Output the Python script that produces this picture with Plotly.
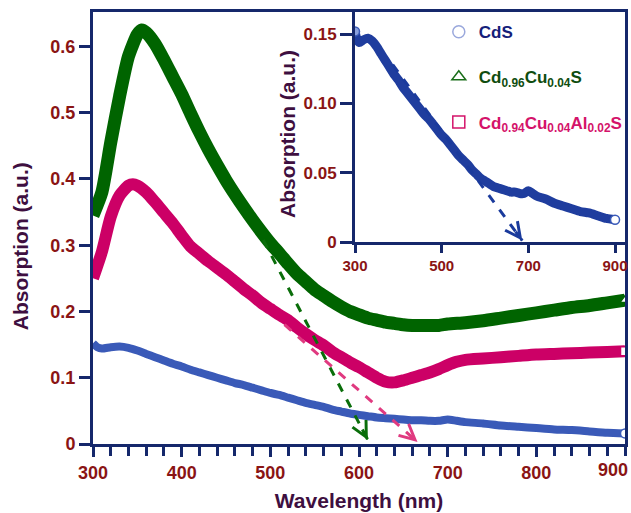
import plotly.graph_objects as go

# ---------------- data ----------------
cds_wl = [300, 305, 310, 320, 330, 340, 350, 360, 370, 380, 390, 400, 410, 420, 430, 440, 450,
          460, 470, 480, 490, 500, 510, 520, 530, 540, 550, 560, 570, 580, 590, 600, 610, 620,
          630, 640, 650, 660, 670, 680, 690, 700, 710, 720, 740, 760, 780, 800, 820, 840, 860,
          880, 900]
cds_abs = [0.152, 0.146, 0.144, 0.146, 0.147, 0.145, 0.141, 0.136, 0.131, 0.126, 0.121, 0.117,
           0.112, 0.108, 0.104, 0.100, 0.096, 0.092, 0.089, 0.085, 0.081, 0.077, 0.074, 0.070,
           0.066, 0.062, 0.059, 0.056, 0.052, 0.049, 0.046, 0.044, 0.042, 0.040, 0.039, 0.038,
           0.037, 0.036, 0.036, 0.035, 0.035, 0.037, 0.035, 0.033, 0.031, 0.028, 0.026, 0.024,
           0.022, 0.021, 0.019, 0.017, 0.016]

cu_wl = [300, 310, 320, 330, 340, 350, 355, 360, 370, 380, 390, 400, 410, 420, 430, 440, 450,
         460, 470, 480, 490, 500, 510, 520, 530, 540, 550, 560, 570, 580, 590, 600, 610, 620,
         630, 640, 650, 660, 670, 680, 690, 700, 720, 740, 760, 780, 800, 820, 840, 860, 880, 900]
cu_abs = [0.345, 0.380, 0.455, 0.525, 0.585, 0.618, 0.625, 0.621, 0.604, 0.580, 0.554, 0.528,
          0.499, 0.471, 0.445, 0.421, 0.398, 0.377, 0.357, 0.338, 0.320, 0.303, 0.288, 0.272,
          0.257, 0.245, 0.233, 0.224, 0.215, 0.207, 0.200, 0.195, 0.190, 0.187, 0.184, 0.182,
          0.180, 0.179, 0.179, 0.179, 0.179, 0.181, 0.183, 0.186, 0.190, 0.194, 0.198, 0.202,
          0.206, 0.209, 0.213, 0.217]

al_wl = [300, 310, 320, 330, 340, 345, 350, 360, 370, 380, 390, 400, 410, 420, 430, 440, 450,
         460, 470, 480, 490, 500, 510, 520, 530, 540, 550, 560, 570, 580, 590, 600, 610, 620,
         630, 640, 650, 660, 670, 680, 690, 700, 710, 720, 740, 760, 780, 800, 820, 840, 860,
         880, 900]
al_abs = [0.250, 0.290, 0.343, 0.375, 0.390, 0.392, 0.390, 0.380, 0.365, 0.349, 0.333, 0.315,
          0.298, 0.287, 0.276, 0.266, 0.256, 0.245, 0.234, 0.224, 0.213, 0.204, 0.195, 0.187,
          0.176, 0.166, 0.157, 0.149, 0.139, 0.131, 0.123, 0.116, 0.108, 0.100, 0.094, 0.093,
          0.096, 0.100, 0.104, 0.108, 0.113, 0.119, 0.124, 0.127, 0.129, 0.131, 0.133, 0.135,
          0.136, 0.137, 0.138, 0.139, 0.140]

names = ["CdS", "Cd<sub>0.96</sub>Cu<sub>0.04</sub>S", "Cd<sub>0.94</sub>Cu<sub>0.04</sub>Al<sub>0.02</sub>S"]

main_xticks = [300, 400, 500, 600, 700, 800]
main_xlast = 900          # last main x label, drawn right-aligned at the axis end
main_yticks = [0, 0.1, 0.2, 0.3, 0.4, 0.5, 0.6]
main_yticktext = ["0", "0.1", "0.2", "0.3", "0.4", "0.5", "0.6"]
inset_xticks = [300, 500, 700, 900]
inset_yticks = [0, 0.05, 0.10, 0.15]
inset_yticktext = ["0", "0.05", "0.10", "0.15"]

x_title = "Wavelength (nm)"
y_title = "Absorption (a.u.)"

# arrows: start (x, y) and tip (x, y)
arrow_cu_x, arrow_cu_y = [492, 610], [0.308, 0.006]
arrow_al_x, arrow_al_y = [516, 666], [0.180, 0.003]
arrow_cds_x, arrow_cds_y = [387, 686], [0.128, 0.001]

# ---------------- style ----------------
FONT = "Arial, Liberation Sans, sans-serif"
AXIS = "#15286b"
TICK = "#8a1414"
TITLE = "#3e0f40"
GREEN = "#006400"
PINK = "#cc0066"
BLUE = "#3a5ab8"

fig = go.Figure()

# main curves
fig.add_trace(go.Scatter(x=cu_wl, y=cu_abs, mode="lines", showlegend=False,
                         line=dict(color=GREEN, width=13, shape="spline", smoothing=0.6)))
fig.add_trace(go.Scatter(x=al_wl, y=al_abs, mode="lines", showlegend=False,
                         line=dict(color=PINK, width=12, shape="spline", smoothing=0.6)))
fig.add_trace(go.Scatter(x=cds_wl, y=cds_abs, mode="lines", showlegend=False,
                         line=dict(color=BLUE, width=8, shape="spline", smoothing=0.6)))
# end markers
fig.add_trace(go.Scatter(x=[cu_wl[-1]], y=[cu_abs[-1]], mode="markers", showlegend=False,
                         marker=dict(symbol="triangle-up", size=9, color="white", line=dict(color=GREEN, width=1.5))))
fig.add_trace(go.Scatter(x=[al_wl[-1]], y=[al_abs[-1]], mode="markers", showlegend=False,
                         marker=dict(symbol="square", size=9, color="white", line=dict(color=PINK, width=1.5))))
fig.add_trace(go.Scatter(x=[cds_wl[-1]], y=[cds_abs[-1]], mode="markers", showlegend=False,
                         marker=dict(symbol="circle", size=9, color="white", line=dict(color=BLUE, width=1.5))))

# inset curve
fig.add_trace(go.Scatter(x=cds_wl, y=cds_abs, mode="lines", showlegend=False, xaxis="x2", yaxis="y2",
                         line=dict(color="#1f3d9e", width=9, shape="spline", smoothing=0.6)))
fig.add_trace(go.Scatter(x=[cds_wl[0], cds_wl[-1]], y=[cds_abs[0], cds_abs[-1]], mode="markers",
                         showlegend=False, xaxis="x2", yaxis="y2",
                         marker=dict(symbol="circle", size=9, color=["#8aa0dd", "white"],
                                     line=dict(color="#3a5ab8", width=1.5))))

# legend entries
leg = [(names[0], "circle-open", "#9aa8dc", "#14207a"),
       (names[1], "triangle-up-open", "#1a6e1a", "#0f4d0f"),
       (names[2], "square-open", "#d4136a", "#d4136a")]
for i, (nm, sym, mc, tc) in enumerate(leg):
    fig.add_trace(go.Scatter(x=[None], y=[None], mode="markers", xaxis="x2", yaxis="y2",
                             name=f'<span style="color:{tc}">{nm}</span>', legendgroup=f"g{i}",
                             marker=dict(symbol=sym, size=12, color=mc, line=dict(width=1.5))))

# dashed arrows: dashed line trace + chevron head at the tip
def add_arrow(xs, ys, color, xa, ya):
    fig.add_trace(go.Scatter(x=xs, y=ys, mode="lines", showlegend=False, xaxis=xa, yaxis=ya,
                             line=dict(color=color, width=3, dash="dash")))
    x0, x1 = xs
    y0, y1 = ys
    fig.add_annotation(x=x1, y=y1, xref=xa, yref=ya, axref=xa, ayref=ya,
                       ax=x1 - 0.06 * (x1 - x0), ay=y1 - 0.06 * (y1 - y0),
                       showarrow=True, arrowhead=5, arrowsize=1.0, arrowwidth=3,
                       arrowcolor=color, text="")

add_arrow(arrow_cu_x, arrow_cu_y, "#0a6e0a", "x", "y")
add_arrow(arrow_al_x, arrow_al_y, "#e03a80", "x", "y")
add_arrow(arrow_cds_x, arrow_cds_y, "#1a3a9c", "x2", "y2")

# y-axis titles (placed as rotated text)
title_font = dict(family=FONT, size=21, color=TITLE, weight="bold")
fig.add_annotation(text=y_title, xref="paper", yref="paper", x=-0.137, y=0.458,
                   xanchor="center", yanchor="middle",
                   textangle=-90, showarrow=False, font=title_font)
fig.add_annotation(text=y_title, xref="paper", yref="paper", x=0.3665, y=0.7176,
                   xanchor="center", yanchor="middle",
                   textangle=-90, showarrow=False, font=title_font)

# last main x tick label, right-aligned at the axis end
main_tickfont = dict(family=FONT, size=18, color=TICK, weight="bold")
fig.add_annotation(text=str(main_xlast), x=main_xlast, xref="x", y=0, yref="paper",
                   xanchor="right", yanchor="middle", xshift=5, yshift=-26,
                   showarrow=False, font=main_tickfont)

fig.update_layout(
    width=631, height=513,
    margin=dict(l=93, r=6, t=12, b=69, autoexpand=False),
    paper_bgcolor="white", plot_bgcolor="white",
    font=dict(family=FONT),
    xaxis=dict(range=[300, 900], domain=[0, 1], tickvals=main_xticks,
               automargin=False,
               showline=True, linecolor=AXIS, linewidth=3, mirror=True,
               ticks="outside", ticklen=10, tickwidth=2.5, tickcolor=AXIS,
               minor=dict(dtick=20, tick0=300, ticks="outside", ticklen=9, tickwidth=2.5, tickcolor=AXIS),
               showgrid=False, zeroline=False,
               tickfont=main_tickfont,
               title=dict(text=x_title, standoff=12, font=title_font)),
    yaxis=dict(range=[0, 0.652], domain=[0, 1], tickvals=main_yticks, ticktext=main_yticktext,
               automargin=False,
               showline=True, linecolor=AXIS, linewidth=3, mirror=True,
               ticks="outside", ticklen=11, tickwidth=2.5, tickcolor=AXIS,
               showgrid=False, zeroline=False,
               tickfont=main_tickfont),
    xaxis2=dict(range=[300, 923], domain=[0.4925, 1], anchor="y2", tickvals=inset_xticks,
                automargin=False, ticklabeloverflow="allow",
                showline=True, linecolor=AXIS, linewidth=3, mirror=True,
                ticks="outside", ticklen=8, tickwidth=2.5, tickcolor=AXIS,
                showgrid=False, zeroline=False,
                tickfont=dict(family=FONT, size=15, color=TICK, weight="bold")),
    yaxis2=dict(range=[0, 0.166], domain=[0.4676, 1], anchor="x2", tickvals=inset_yticks,
                ticktext=inset_yticktext, automargin=False,
                showline=True, linecolor=AXIS, linewidth=3, mirror=True,
                ticks="outside", ticklen=12, tickwidth=2.5, tickcolor=AXIS,
                showgrid=False, zeroline=False,
                tickfont=dict(family=FONT, size=17, color=TICK, weight="bold")),
    legend=dict(x=0.65, y=0.995, xanchor="left", yanchor="top", bgcolor="rgba(0,0,0,0)",
                traceorder="grouped", tracegroupgap=20, itemwidth=30,
                font=dict(family=FONT, size=17, weight="bold")),
)

fig.write_html("out.html")
